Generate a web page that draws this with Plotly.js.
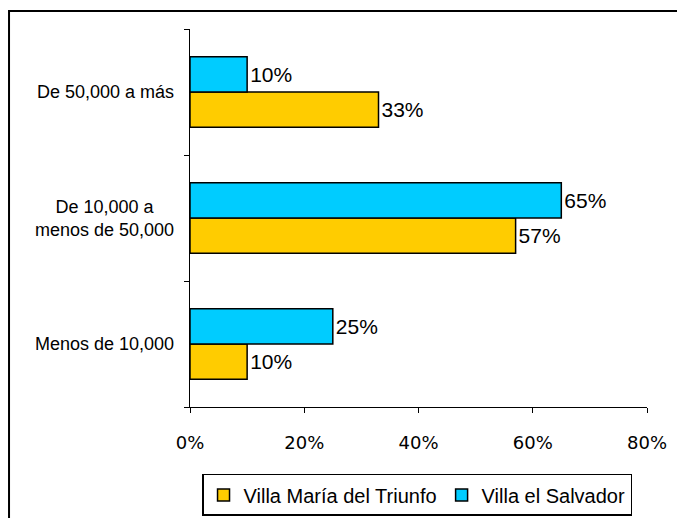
<!DOCTYPE html>
<html>
<head>
<meta charset="utf-8">
<script src="https://cdn.plot.ly/plotly-3.0.1.min.js"></script>
<style>html,body{margin:0;padding:0;background:#fff;}#chart{width:677px;height:518px;}</style>
</head>
<body>
<div id="chart"></div>
<script>
// Categories bottom to top
const categories = ["Menos de 10,000", "De 10,000 a<br>menos de 50,000", "De 50,000 a más"];
const seriesNames = ["Villa María del Triunfo", "Villa el Salvador"];
const vmtValues = [10, 57, 33];
const vesValues = [25, 65, 10];
const xTickVals = [0, 20, 40, 60, 80];
const xTickText = ["0%", "20%", "40%", "60%", "80%"];

const labelFont = {family: "Liberation Sans, Arial, sans-serif", size: 21, color: "#000"};

function barTrace(name, values, color) {
  return {
    type: "bar",
    orientation: "h",
    name: name,
    y: categories,
    x: values,
    text: values.map(v => v + "%"),
    textposition: "outside",
    textfont: labelFont,
    constraintext: "none",
    cliponaxis: false,
    hoverinfo: "none",
    marker: {color: color, line: {color: "#000", width: 1.5}}
  };
}

const data = [
  barTrace(seriesNames[0], vmtValues, "#FFCC00"),
  barTrace(seriesNames[1], vesValues, "#00CCFF")
];

const annotations = categories.map(c => ({
  xref: "paper", yref: "y", x: -0.03, y: c,
  xanchor: "right", yanchor: "middle", align: "center",
  text: c, showarrow: false,
  font: {family: "Liberation Sans, Arial, sans-serif", size: 18, color: "#000"}
}));

const layout = {
  width: 677, height: 518,
  margin: {l: 190, r: 30, t: 29, b: 111},
  paper_bgcolor: "#fff", plot_bgcolor: "#fff",
  barmode: "group",
  bargap: 0.44,
  bargroupgap: 0,
  showlegend: true,
  legend: {
    orientation: "h", xref: "container", x: 0.616, xanchor: "center",
    yref: "container", y: 0.004, yanchor: "bottom",
    bordercolor: "#000", borderwidth: 1.5, bgcolor: "#fff",
    font: {family: "Liberation Sans, Arial, sans-serif", size: 20, color: "#000"},
    traceorder: "normal", itemclick: false
  },
  xaxis: {
    range: [0, 80], tickvals: xTickVals, ticktext: xTickText,
    showgrid: false, zeroline: false, showline: true, linecolor: "#000", linewidth: 1,
    ticks: "outside", ticklen: 5, tickcolor: "#000", tickwidth: 1,
    ticklabelstandoff: 14,
    tickfont: {family: "DejaVu Sans, sans-serif", size: 18, color: "#000"},
    fixedrange: true
  },
  yaxis: {
    type: "category", categoryorder: "array", categoryarray: categories,
    showgrid: false, zeroline: false, showline: true, linecolor: "#000", linewidth: 1,
    ticks: "outside", ticklen: 5, tickcolor: "#000", tickwidth: 1,
    tickson: "boundaries", showticklabels: false,
    fixedrange: true
  },
  annotations: annotations,
  shapes: [{
    type: "rect", xref: "paper", yref: "paper",
    x0: -0.396, x1: 2, y0: -2, y1: 1.0475,
    line: {color: "#000", width: 2}, fillcolor: "rgba(0,0,0,0)", layer: "above"
  }]
};

Plotly.newPlot("chart", data, layout, {displayModeBar: false, staticPlot: true});
</script>
</body>
</html>
